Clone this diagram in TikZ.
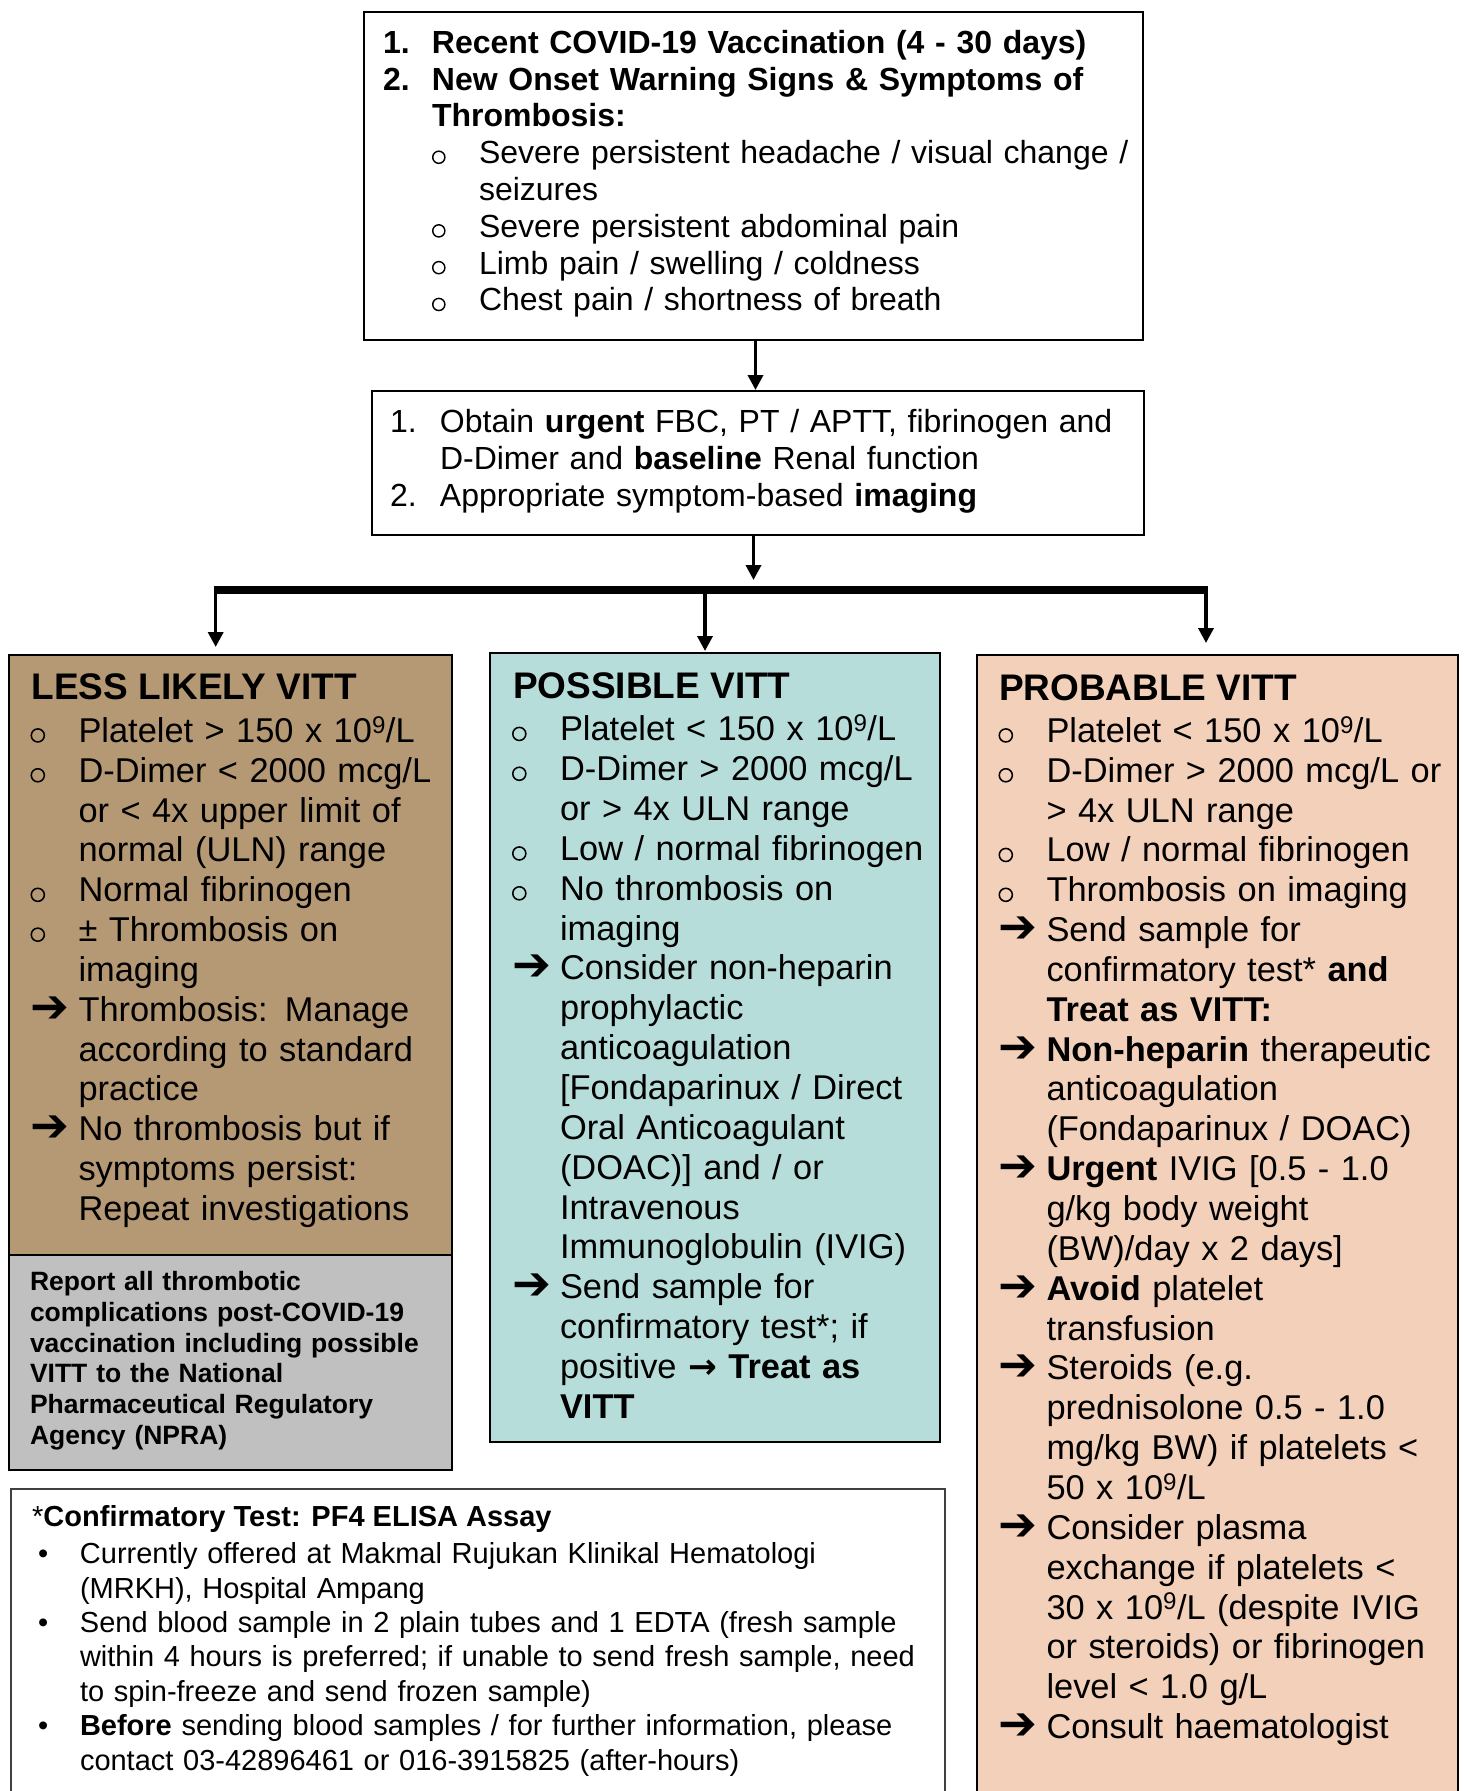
\documentclass[tikz,border=0pt]{standalone}
\usepackage{fontspec}
\usepackage{graphicx}
\setmainfont{Liberation Sans}
\newfontfamily\dvfont{DejaVu Sans}
\usetikzlibrary{arrows.meta}
\definecolor{cbrown}{RGB}{181,153,116}
\definecolor{cteal}{RGB}{182,221,217}
\definecolor{cpeach}{RGB}{243,208,186}
\definecolor{cgray}{RGB}{192,192,192}
\newcommand\nl{\hfil\break}
\newcommand\obul{\tikz[baseline=0pt]\draw[line width=0.045em] (0.22em,0.2em) circle[radius=0.19em];}
\newcommand\abul{\raisebox{-1pt}{\dvfont\scalebox{1.35}{➔}}}
\newcommand\tenn{10\smash{\textsuperscript{9}}}
\newlength\hind
\newcommand\prep{\lineskiplimit=-1000pt\relax\parskip=0pt\relax}
\newcommand\fitm[2]{\hangindent=\hind\hangafter=1\noindent\strut\makebox[\hind][l]{#1}#2}
\newcommand\itm[2]{\par\fitm{#1}{#2}}
\newcommand\sitm[2]{\par\hangindent=\dimexpr\hind+47pt\relax\hangafter=1\noindent\strut\hspace*{\hind}\makebox[47pt][l]{#1}#2}
\begin{document}
\begin{tikzpicture}[x=1pt,y=-1pt,
  box/.style={draw=black,line width=2.2pt,inner sep=0pt,outer sep=0pt,anchor=north west},
  txt/.style={inner sep=0pt,outer sep=0pt,anchor=north west,text width=#1,align=left},
  ttl/.style={inner sep=0pt,outer sep=0pt,anchor=base west,font=\fontsize{37}{42}\selectfont\bfseries},
  colfont/.style={font=\fontsize{34.4}{39.85}\selectfont\prep},
  arr/.style={line width=3.5pt,-{Triangle[width=15pt,length=15pt]}},
  thickbar/.style={line width=8pt}]
\useasboundingbox (0,0) rectangle (1464,1791);
% boxes
\node[box,minimum width=779pt,minimum height=328pt] (top) at (364,12) {};
\node[box,minimum width=772pt,minimum height=144pt] (box2) at (372,391) {};
\node[box,fill=cbrown,minimum width=443pt,minimum height=600pt] (lbox) at (9,655) {};
\node[box,fill=cgray,minimum width=443pt,minimum height=215pt] (gbox) at (9,1255) {};
\node[box,fill=cteal,minimum width=450pt,minimum height=789pt] (mbox) at (490,653) {};
\node[box,draw=none,fill=cpeach,minimum width=481pt,minimum height=1145pt] (rbox) at (977,655) {};
\draw[line width=2.2pt] (rbox.south west) -- (rbox.north west) -- (rbox.north east) -- (rbox.south east);
\node[box,draw=none,minimum width=934pt,minimum height=310pt] (cbox) at (11,1489) {};
\draw[line width=1.5pt,black!75] (cbox.south west) -- (cbox.north west) -- (cbox.north east) -- (cbox.south east);
% connectors
\coordinate (a1) at ([xshift=2pt]top.south);
\draw[arr,shorten >=1pt] (a1) -- (a1 |- box2.north);
\coordinate (dL) at (215.7,590);
\coordinate (dM) at (705,590);
\coordinate (dR) at (1206,590);
\coordinate (a2) at ([xshift=-4.5pt]box2.south);
\draw[arr,shorten >=10pt] (a2) -- (a2 |- dL);
\draw[thickbar] ([xshift=-2.2pt]dL) -- ([xshift=2pt]dR);
\draw[arr,shorten >=8pt] (dL) -- (dL |- lbox.north);
\draw[arr,shorten >=2pt] (dM) -- (dM |- mbox.north);
\draw[arr,shorten >=12pt] (dR) -- (dR |- rbox.north);
% top box text
\node[txt=770pt,font=\fontsize{32}{36.8}\selectfont\prep] (t1) at (383,27.5) {\setlength\hind{49pt}%
\fitm{\textbf{1.}}{\textbf{Recent COVID-19 Vaccination (4 - 30 days)}}%
\itm{\textbf{2.}}{\textbf{New Onset Warning Signs \& Symptoms of\nl Thrombosis:}}%
\sitm{\obul}{Severe persistent headache / visual change /\nl seizures}%
\sitm{\obul}{Severe persistent abdominal pain}%
\sitm{\obul}{Limb pain / swelling / coldness}%
\sitm{\obul}{Chest pain / shortness of breath}\par};
% second box text
\node[txt=760pt,font=\fontsize{32}{36.7}\selectfont\prep] (t2) at (390,407) {\setlength\hind{50pt}%
\fitm{1.}{Obtain \textbf{urgent} FBC, PT / APTT, fibrinogen and\nl D-Dimer and \textbf{baseline} Renal function}%
\itm{2.}{Appropriate symptom-based \textbf{imaging}}\par};
% left column
\node[ttl] (lt) at (31.5,699) {LESS LIKELY VITT};
\node[txt=470pt,colfont] (ltxt) at (30.5,714.4) {\setlength\hind{48pt}%
\fitm{\obul}{Platelet > 150 x \tenn/L}%
\itm{\obul}{D-Dimer < 2000 mcg/L\nl or < 4x upper limit of\nl normal (ULN) range}%
\itm{\obul}{Normal fibrinogen}%
\itm{\obul}{± Thrombosis on\nl imaging}%
\itm{\abul}{Thrombosis: Manage\nl according to standard\nl practice}%
\itm{\abul}{No thrombosis but if\nl symptoms persist:\nl Repeat investigations}\par};
\node[txt=430pt,font=\fontsize{26.5}{30.7}\selectfont\bfseries\prep] (gtxt) at (30,1269.2) {\noindent\strut Report all thrombotic\nl complications post-COVID-19\nl vaccination including possible\nl VITT to the National\nl Pharmaceutical Regulatory\nl Agency (NPRA)\par};
% middle column
\node[ttl] (mt) at (513,698) {POSSIBLE VITT};
\node[txt=470pt,colfont] (mtxt) at (512,712.9) {\setlength\hind{48pt}%
\fitm{\obul}{Platelet < 150 x \tenn/L}%
\itm{\obul}{D-Dimer > 2000 mcg/L\nl or > 4x ULN range}%
\itm{\obul}{Low / normal fibrinogen}%
\itm{\obul}{No thrombosis on\nl imaging}%
\itm{\abul}{Consider non-heparin\nl prophylactic\nl anticoagulation\nl [Fondaparinux / Direct\nl Oral Anticoagulant\nl (DOAC)] and / or\nl Intravenous\nl Immunoglobulin (IVIG)}%
\itm{\abul}{Send sample for\nl confirmatory test*; if\nl positive {\dvfont\bfseries →} \textbf{Treat as\nl VITT}}\par};
% right column
\node[ttl] (rt) at (999,700) {PROBABLE VITT};
\node[txt=470pt,colfont] (rtxt) at (998.5,714.4) {\setlength\hind{48pt}%
\fitm{\obul}{Platelet < 150 x \tenn/L}%
\itm{\obul}{D-Dimer > 2000 mcg/L or\nl > 4x ULN range}%
\itm{\obul}{Low / normal fibrinogen}%
\itm{\obul}{Thrombosis on imaging}%
\itm{\abul}{Send sample for\nl confirmatory test* \textbf{and}\nl \textbf{Treat as VITT:}}%
\itm{\abul}{\textbf{Non-heparin} therapeutic\nl anticoagulation\nl (Fondaparinux / DOAC)}%
\itm{\abul}{\textbf{Urgent} IVIG [0.5 - 1.0\nl g/kg body weight\nl (BW)/day x 2 days]}%
\itm{\abul}{\textbf{Avoid} platelet\nl transfusion}%
\itm{\abul}{Steroids (e.g.\nl prednisolone 0.5 - 1.0\nl mg/kg BW) if platelets <\nl 50 x \tenn/L}%
\itm{\abul}{Consider plasma\nl exchange if platelets <\nl 30 x \tenn/L (despite IVIG\nl or steroids) or fibrinogen\nl level < 1.0 g/L}%
\itm{\abul}{Consult haematologist}\par};
% bottom box
\node[inner sep=0pt,anchor=base west,font=\fontsize{29}{34.4}\selectfont\bfseries] (ctl) at (32,1526) {{\mdseries*}Confirmatory Test: PF4 ELISA Assay};
\node[txt=900pt,font=\fontsize{29}{34.4}\selectfont\prep] (ctxt) at (38,1539.7) {\setlength\hind{42pt}%
\fitm{•}{Currently offered at Makmal Rujukan Klinikal Hematologi\nl (MRKH), Hospital Ampang}%
\itm{•}{Send blood sample in 2 plain tubes and 1 EDTA (fresh sample\nl within 4 hours is preferred; if unable to send fresh sample, need\nl to spin-freeze and send frozen sample)}%
\itm{•}{\textbf{Before} sending blood samples / for further information, please\nl contact 03-42896461 or 016-3915825 (after-hours)}\par};
\end{tikzpicture}
\end{document}
